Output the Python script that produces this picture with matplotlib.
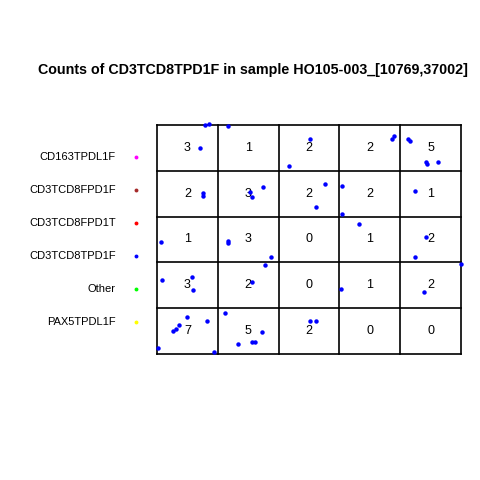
import matplotlib
matplotlib.use("Agg")
import matplotlib.pyplot as plt

plt.rcParams['font.family'] = ['Liberation Sans', 'DejaVu Sans']

title = "Counts of CD3TCD8TPD1F in sample HO105-003_[10769,37002]"

# counts per cell, rows top to bottom, columns left to right
counts = [
    [3, 1, 2, 2, 5],
    [2, 3, 2, 2, 1],
    [1, 3, 0, 1, 2],
    [3, 2, 0, 1, 2],
    [7, 5, 2, 0, 0],
]

# point positions in grid units (x: 0..5 left->right, y: 0..5 bottom->top)
pts_x = [0.79, 0.86, 0.71, 1.16, 2.17, 2.52, 3.87, 3.89, 4.13, 4.16, 4.42, 4.44, 4.62,
         0.75, 0.75, 1.74, 1.53, 1.56, 2.76, 2.62, 3.04, 3.04, 4.25,
         0.06, 1.16, 1.16, 1.87, 3.33, 4.42, 4.25,
         0.08, 0.57, 0.59, 1.77, 1.56, 3.02, 5.00, 4.39,
         0.49, 0.36, 0.32, 0.26, 0.82, 0.01, 0.94, 1.12, 1.72, 1.34, 1.56, 1.62, 2.51, 2.62]
pts_y = [4.99, 5.02, 4.50, 4.98, 4.10, 4.69, 4.69, 4.76, 4.69, 4.64, 4.19, 4.14, 4.19,
         3.51, 3.46, 3.65, 3.54, 3.43, 3.71, 3.22, 3.67, 3.06, 3.56,
         2.45, 2.47, 2.43, 2.12, 2.84, 2.56, 2.12,
         1.62, 1.69, 1.40, 1.94, 1.58, 1.42, 1.97, 1.35,
         0.81, 0.63, 0.55, 0.51, 0.71, 0.14, 0.05, 0.90, 0.49, 0.22, 0.27, 0.27, 0.71, 0.71]

legend_labels = ["CD163TPDL1F", "CD3TCD8FPD1F", "CD3TCD8FPD1T",
                 "CD3TCD8TPD1F", "Other", "PAX5TPDL1F"]
legend_colors = ["#FF00FF", "#A52A2A", "#FF0000", "#0000FF", "#00FF00", "#FFFF00"]

fig = plt.figure(figsize=(4.8, 4.8), dpi=100)
W = H = 480.0
ax = fig.add_axes([157 / W, (H - 354) / H, 304 / W, 229 / H])
ax.set_xlim(0, 5)
ax.set_ylim(0, 5)
ax.axis('off')

for i in range(6):
    ax.plot([i, i], [0, 5], color='black', lw=1.2, clip_on=False, zorder=1)
    ax.plot([0, 5], [i, i], color='black', lw=1.2, clip_on=False, zorder=1)

for r, row in enumerate(counts):
    for c, v in enumerate(row):
        ax.text(c + 0.5, 4.5 - r, str(v), ha='center', va='center',
                fontsize=9, color='black', zorder=2)

ax.plot(pts_x, pts_y, 'o', color='#0000FF', markersize=3.2, markeredgewidth=0,
        clip_on=False, zorder=3)

fig.text(252.5 / W, 1 - 70 / H, title, ha='center', va='center',
         fontsize=10.3, fontweight='bold')

for i, (lab, col) in enumerate(zip(legend_labels, legend_colors)):
    yy = 1 - (157 + 33 * i) / H
    fig.text(116 / W, yy, lab, ha='right', va='center', fontsize=8)
    fig.lines.append(matplotlib.lines.Line2D([136 / W], [yy], marker='o', color=col,
                                             markersize=2.8, markeredgewidth=0,
                                             transform=fig.transFigure))

fig.savefig("out.png", dpi=100)
